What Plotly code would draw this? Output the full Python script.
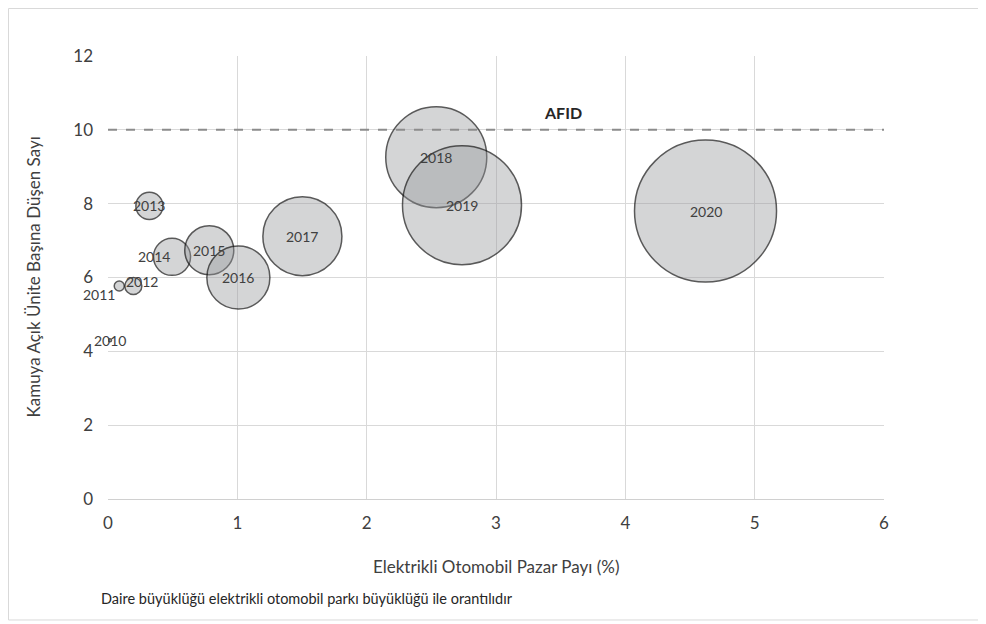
import plotly.graph_objects as go

# year labels
years = ["2010", "2011", "2012", "2013", "2014", "2015", "2016", "2017", "2018", "2019", "2020"]
# electric car market share (%)
market_share = [0.015, 0.087, 0.196, 0.32, 0.495, 0.783, 1.008, 1.503, 2.538, 2.737, 4.62]
# EVs per public charging point
ev_per_point = [4.3, 5.77, 5.77, 7.94, 6.56, 6.74, 6.0, 7.12, 9.26, 7.96, 7.80]
# electric car fleet (thousand) -> bubble size
fleet = [1, 10, 29, 73, 137, 240, 397, 624, 1020, 1416, 2016]

afid_target = 10

# label offsets in px (x, y) for the crowded small bubbles
label_shift = {"2011": (-20, -9), "2012": (9, 4), "2014": (-18, 0)}

FONT = "Lato, 'Open Sans', sans-serif"
MAX_D = 142

fig = go.Figure()

fig.add_trace(go.Scatter(
    x=market_share, y=ev_per_point,
    mode="markers",
    marker=dict(
        size=fleet, sizemode="area",
        sizeref=2.0 * max(fleet) / (MAX_D ** 2),
        color="rgba(150,151,154,0.57)",
        line=dict(color="#141414", width=1.5),
    ),
    hoverinfo="skip",
    showlegend=False,
))

# AFID reference line
fig.add_trace(go.Scatter(
    x=[0, 6], y=[afid_target, afid_target],
    mode="lines",
    line=dict(color="#8c8c8c", width=2, dash="dash"),
    hoverinfo="skip",
    showlegend=False,
))

for yr, xv, yv in zip(years, market_share, ev_per_point):
    dx, dy = label_shift.get(yr, (0, 0))
    fig.add_annotation(x=xv, y=yv, text=yr, showarrow=False,
                       xshift=dx, yshift=dy,
                       font=dict(family=FONT, size=14, color="#404040"))

fig.add_annotation(x=3.52, y=afid_target, text="<b>AFID</b>", showarrow=False,
                   yshift=17, font=dict(family=FONT, size=16, color="#262626"))

# axis titles and note
fig.add_annotation(xref="paper", yref="paper", x=0.5, y=0, yshift=-67,
                   xanchor="center", yanchor="middle",
                   text="Elektrikli Otomobil Pazar Payı (%)", showarrow=False,
                   font=dict(family=FONT, size=17, color="#404040"))
fig.add_annotation(xref="paper", yref="paper", x=0, y=0.5, xshift=-75,
                   xanchor="center", yanchor="middle",
                   text="Kamuya Açık Ünite Başına Düşen Sayı", textangle=-90,
                   showarrow=False,
                   font=dict(family=FONT, size=17, color="#404040"))
fig.add_annotation(xref="paper", yref="paper", x=0, y=0, xshift=-9, yshift=-99,
                   xanchor="left", yanchor="middle",
                   text="Daire büyüklüğü elektrikli otomobil parkı büyüklüğü ile orantılıdır",
                   showarrow=False,
                   font=dict(family=FONT, size=14.5, color="#262626"))

# outer frame
fig.add_shape(type="rect", xref="paper", yref="paper",
              x0=-0.1282, x1=1.125, y0=-0.2731, y1=1.1072,
              line=dict(color="#d9d9d9", width=1), fillcolor="rgba(0,0,0,0)",
              layer="below")

fig.update_xaxes(range=[0, 6], dtick=1, showgrid=True, gridcolor="#d9d9d9",
                 gridwidth=1, zeroline=False, showline=False,
                 ticks="", ticklabelstandoff=12,
                 tickfont=dict(family=FONT, size=17, color="#404040"))
fig.update_yaxes(range=[0, 12], dtick=2, showgrid=True, gridcolor="#d9d9d9",
                 gridwidth=1, zeroline=True, zerolinecolor="#d0d0d0",
                 zerolinewidth=1, showline=False,
                 ticks="", ticklabelstandoff=14,
                 tickfont=dict(family=FONT, size=17, color="#404040"))

# the page adds an 8px body margin, so the figure is a bit smaller
fig.update_layout(
    width=978, height=616,
    margin=dict(l=100, r=102, t=48, b=125),
    plot_bgcolor="white", paper_bgcolor="white",
    font=dict(family=FONT),
)

fig.write_html("out.html")
